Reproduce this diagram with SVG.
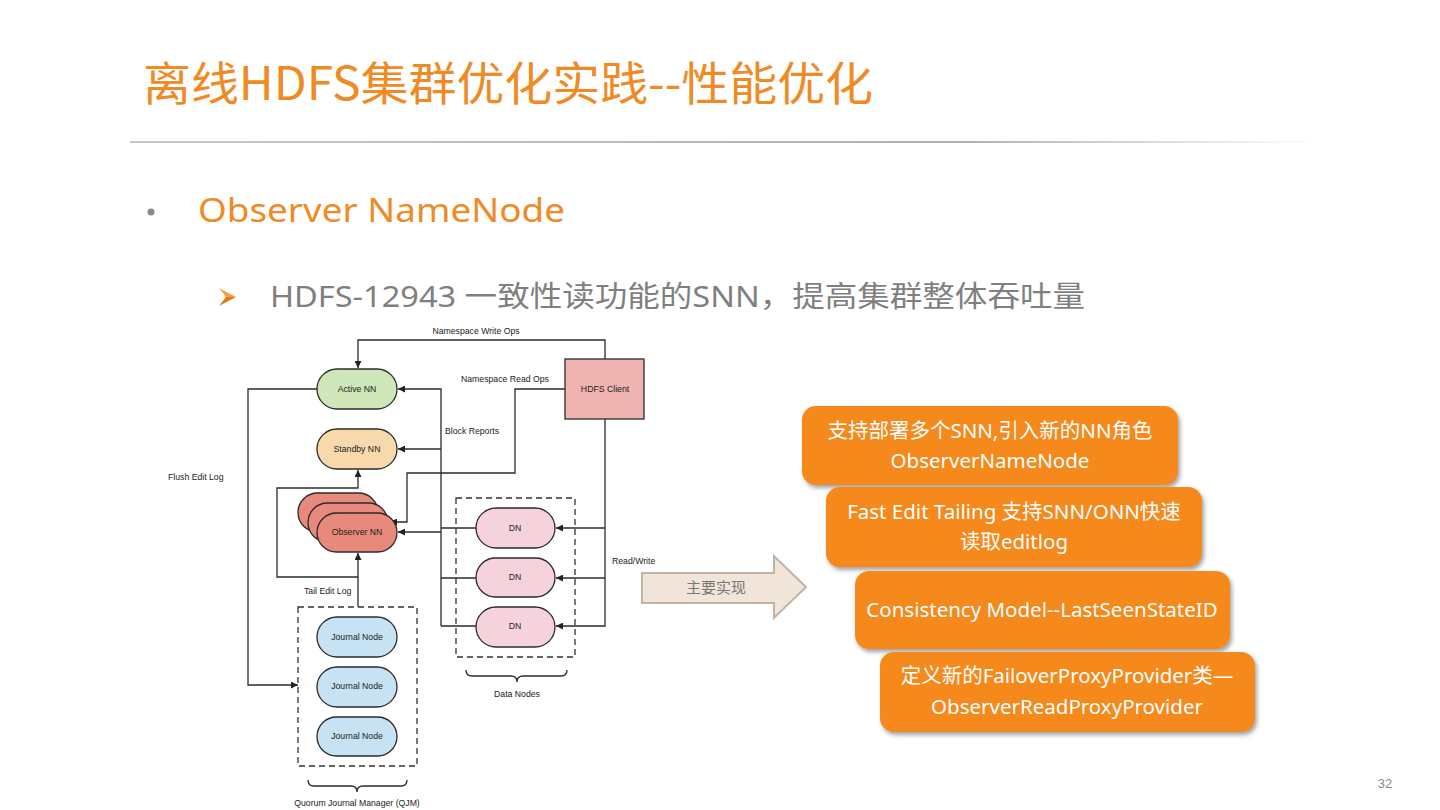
<svg xmlns="http://www.w3.org/2000/svg" width="1440" height="810" viewBox="0 0 1440 810">
<defs>
<marker id="ah" viewBox="0 0 10 10" refX="10" refY="5" markerWidth="7" markerHeight="7" markerUnits="userSpaceOnUse" orient="auto"><path d="M0,0 L10,5 L0,10 z" fill="#222"/></marker>
<linearGradient id="rule" x1="0" x2="1" y1="0" y2="0"><stop offset="0" stop-color="#c8c8c8"/><stop offset="0.7" stop-color="#b0b0b0"/><stop offset="1" stop-color="#ffffff"/></linearGradient>
<filter id="sh" x="-10%" y="-10%" width="125%" height="135%"><feDropShadow dx="2" dy="3" stdDeviation="2" flood-color="#555" flood-opacity="0.55"/></filter>
</defs>
<style>
.t{font-family:"Liberation Sans",Arial,sans-serif;font-size:8.7px;fill:#222}
.c{text-anchor:middle}
.n{stroke:#2b2b2b;stroke-width:1.3}
.ln{fill:none;stroke:#2b2b2b;stroke-width:1.3}
.dash{fill:none;stroke:#333;stroke-width:1.3;stroke-dasharray:6 4}
.ob{fill:#f5891f;filter:url(#sh)}
.ot{font-family:"Noto Sans","Noto Sans CJK SC",sans-serif;font-size:20.5px;fill:#fff;text-anchor:middle}
</style>
<rect width="1440" height="810" fill="#fff"/>
<text x="143" y="100" font-family="'Noto Sans CJK SC','Noto Sans',sans-serif" font-size="46" fill="#f08a24" textLength="730" lengthAdjust="spacingAndGlyphs">离线HDFS集群优化实践--性能优化</text>
<rect x="130" y="141" width="1190" height="2" fill="url(#rule)"/>
<circle cx="151" cy="212" r="3.5" fill="#8a8a8a"/>
<text x="198" y="222" font-family="'Noto Sans','Noto Sans CJK SC',sans-serif" font-size="33" fill="#f08a24" textLength="367" lengthAdjust="spacingAndGlyphs">Observer NameNode</text>
<path d="M219,288 L236,297 L226,297 z" fill="#f5a14a"/>
<path d="M219,306 L236,297 L226,297 z" fill="#e07a12"/>
<text x="270" y="307" font-family="'Noto Sans','Noto Sans CJK SC',sans-serif" font-size="29" fill="#7f7f7f" textLength="815" lengthAdjust="spacingAndGlyphs">HDFS-12943 一致性读功能的SNN，提高集群整体吞吐量</text>

<g id="connectors">
<path class="ln" d="M605,359 V340 H358 V368" marker-end="url(#ah)"/>
<path class="ln" d="M565,389 H515 V473 H407 V522 H390" marker-end="url(#ah)"/>
<path class="ln" d="M441,626 V389 H398" marker-end="url(#ah)"/>
<path class="ln" d="M441,449 H398" marker-end="url(#ah)"/>
<path class="ln" d="M441,532 H398" marker-end="url(#ah)"/>
<path class="ln" d="M476,528 H441 M476,578 H441 M476,626 H441"/>
<path class="ln" d="M605,419 V626 H556" marker-end="url(#ah)"/>
<path class="ln" d="M605,528 H556" marker-end="url(#ah)"/>
<path class="ln" d="M605,578 H556" marker-end="url(#ah)"/>
<path class="ln" d="M317,389 H248 V685 H298" marker-end="url(#ah)"/>
<path class="ln" d="M358,607 V553" marker-end="url(#ah)"/>
<path class="ln" d="M358,577 H277 V488 H358 V470" marker-end="url(#ah)"/>
<text class="t c" x="476" y="334">Namespace Write Ops</text>
<text class="t" x="461" y="382">Namespace Read Ops</text>
<text class="t" x="445" y="434">Block Reports</text>
<text class="t" x="168" y="480">Flush Edit Log</text>
<text class="t" x="304" y="594">Tail Edit Log</text>
<text class="t" x="612" y="564">Read/Write</text>
</g>

<g id="active-nn"><rect class="n" x="317" y="369" width="80" height="40" rx="20" fill="#cfe6b8"/><text class="t c" x="357" y="392">Active NN</text></g>
<g id="standby-nn"><rect class="n" x="317" y="429" width="80" height="40" rx="20" fill="#f8d9ac"/><text class="t c" x="357" y="452">Standby NN</text></g>
<g id="hdfs-client"><rect class="n" x="565" y="359" width="79" height="60" fill="#efb3b1"/><text class="t c" x="605" y="392">HDFS Client</text></g>
<g id="observer-nn">
<rect class="n" x="298" y="493" width="80" height="39" rx="19.5" fill="#e88a7b"/>
<rect class="n" x="308" y="503" width="80" height="39" rx="19.5" fill="#e88a7b"/>
<rect class="n" x="317" y="513" width="80" height="39" rx="19.5" fill="#e88a7b"/>
<text class="t c" x="357" y="535">Observer NN</text></g>
<g id="data-nodes">
<rect class="dash" x="456" y="498" width="119" height="159"/>
<path class="ln" d="M466,670 Q466,676 472,676 H511 Q517,676 517,682 Q517,676 523,676 H561 Q567,676 567,670"/>
<text class="t c" x="517" y="697">Data Nodes</text>
</g>
<g id="dn1"><rect class="n" x="476" y="508" width="79" height="40" rx="20" fill="#f6d3dc"/><text class="t c" x="515" y="531">DN</text></g>
<g id="dn2"><rect class="n" x="476" y="558" width="79" height="39" rx="19.5" fill="#f6d3dc"/><text class="t c" x="515" y="580">DN</text></g>
<g id="dn3"><rect class="n" x="476" y="607" width="79" height="40" rx="20" fill="#f6d3dc"/><text class="t c" x="515" y="629">DN</text></g>
<g id="qjm">
<rect class="dash" x="298" y="607" width="119" height="159"/>
<path class="ln" d="M308,780 Q308,786 314,786 H351 Q357,786 357,792 Q357,786 363,786 H401 Q407,786 407,780"/>
<text class="t c" x="357" y="806">Quorum Journal Manager (QJM)</text>
</g>
<g id="jn1"><rect class="n" x="317" y="617" width="80" height="40" rx="20" fill="#c6e2f3"/><text class="t c" x="357" y="640">Journal Node</text></g>
<g id="jn2"><rect class="n" x="317" y="667" width="80" height="40" rx="20" fill="#c6e2f3"/><text class="t c" x="357" y="689">Journal Node</text></g>
<g id="jn3"><rect class="n" x="317" y="717" width="80" height="39" rx="19.5" fill="#c6e2f3"/><text class="t c" x="357" y="739">Journal Node</text></g>

<g id="main-arrow">
<path d="M642,573 H774 V556 L806,587 L774,618 V603 H642 z" fill="#f1e5d9" stroke="#bfb3a6" stroke-width="2"/>
<text x="716" y="593" font-family="'Noto Sans CJK SC',sans-serif" font-size="15" fill="#777" text-anchor="middle">主要实现</text>
</g>

<g id="box1"><rect class="ob" x="802" y="406" width="376" height="79" rx="14"/><text class="ot" x="990" y="438">支持部署多个SNN,引入新的NN角色</text><text class="ot" x="990" y="468">ObserverNameNode</text></g>
<g id="box2"><rect class="ob" x="826" y="487" width="376" height="80" rx="14"/><text class="ot" x="1014" y="519">Fast Edit Tailing 支持SNN/ONN快速</text><text class="ot" x="1014" y="549">读取editlog</text></g>
<g id="box3"><rect class="ob" x="855" y="571" width="375" height="78" rx="14"/><text class="ot" x="1042" y="617">Consistency Model--LastSeenStateID</text></g>
<g id="box4"><rect class="ob" x="880" y="652" width="375" height="80" rx="14"/><text class="ot" x="1067" y="683">定义新的FailoverProxyProvider类—</text><text class="ot" x="1067" y="714">ObserverReadProxyProvider</text></g>

<text x="1385" y="788" font-family="'Liberation Sans',sans-serif" font-size="13" fill="#888" text-anchor="middle">32</text>
</svg>
